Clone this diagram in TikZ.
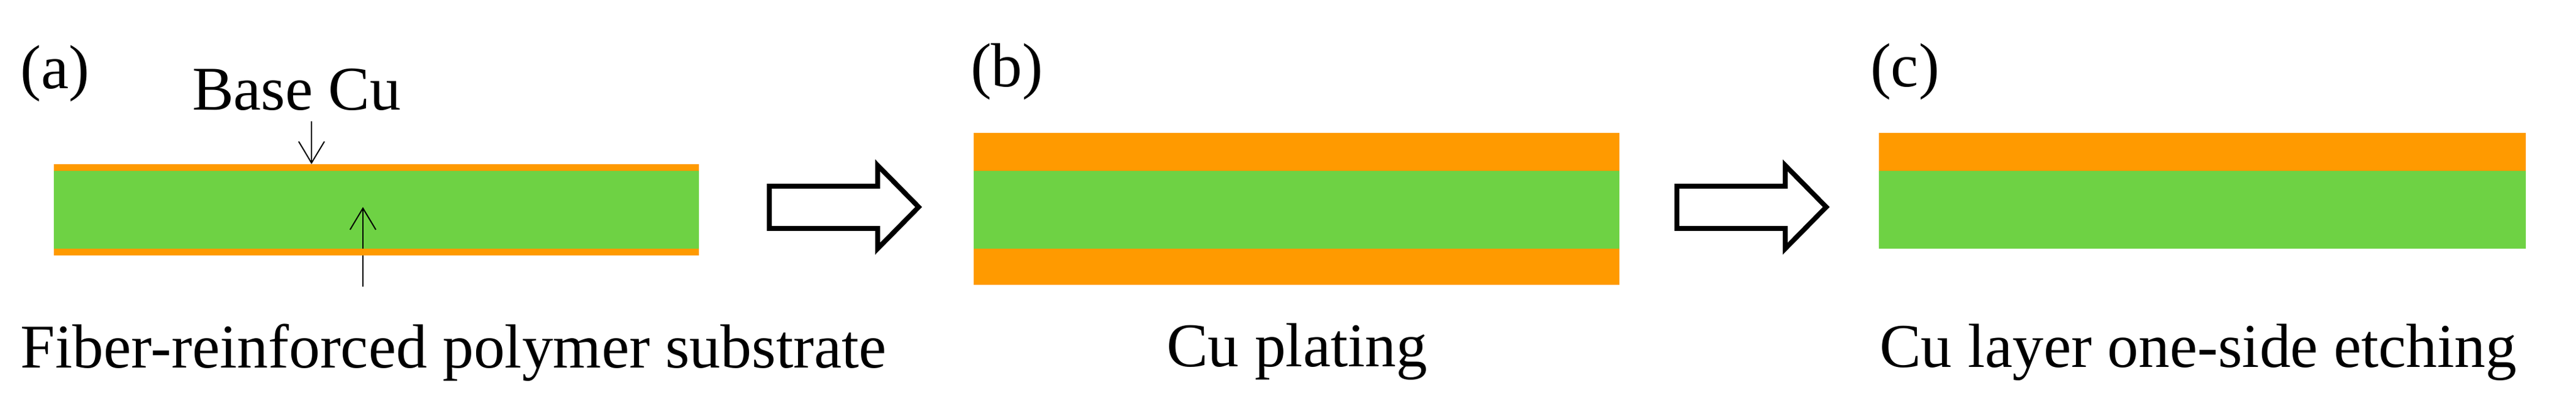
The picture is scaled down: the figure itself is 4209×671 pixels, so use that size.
\documentclass[tikz,border=0pt]{standalone}
\usepackage{fontspec}
\setmainfont{Liberation Serif}
\usetikzlibrary{arrows.meta}
\definecolor{cuorange}{RGB}{255,154,0}
\definecolor{polygreen}{RGB}{110,210,68}
\begin{document}
\begin{tikzpicture}[x=0.01cm,y=-0.01cm,
  lbl/.style={inner sep=0pt,outer sep=0pt,anchor=base west,font=\fontsize{28.9}{34}\selectfont},
  cu/.style={fill=cuorange,draw=none},
  poly/.style={fill=polygreen,draw=none},
  blockarrow/.style={draw=black,line width=0.08cm,fill=white,line join=miter},
  thinarrow/.style={draw=black,line width=0.02cm,-{Straight Barb[length=0.35cm,width=0.42cm,line width=0.02cm]}}]
\useasboundingbox (0,0) rectangle (4209,671);
% panel (a)
\fill[poly] (88,279) rectangle (1142,406);
\coordinate (downstart) at (509,198);
\coordinate (downend) at (509,268);
\coordinate (upstart) at (593,468);
\coordinate (upend) at (593,338);
\draw[thinarrow] (upstart) -- (upend);
\fill[cu] (88,268) rectangle (1142,279);
\fill[cu] (88,406) rectangle (1142,417);
\draw[thinarrow] (downstart) -- (downend);
\node[lbl] (la) at (34,145) {(a)};
\node[lbl] (base) at (314,180) {Base Cu};
\node[lbl] (ta) at (34,601) {Fiber-reinforced polymer substrate};
% arrow 1
\draw[blockarrow] (1257,304) -- (1434,304) -- (1434,270) -- (1501,338) -- (1434,406) -- (1434,373) -- (1257,373) -- cycle;
% panel (b)
\fill[cu] (1591,217) rectangle (2646,279);
\fill[poly] (1591,279) rectangle (2646,406);
\fill[cu] (1591,406) rectangle (2646,465);
\node[lbl] (lb) at (1586,142) {(b)};
\node[lbl] (tb) at (1906,599) {Cu plating};
% arrow 2
\begin{scope}[xshift=14.82cm]
\draw[blockarrow] (1257,304) -- (1434,304) -- (1434,270) -- (1501,338) -- (1434,406) -- (1434,373) -- (1257,373) -- cycle;
\end{scope}
% panel (c)
\fill[cu] (3070,217) rectangle (4127,279);
\fill[poly] (3070,279) rectangle (4127,406);
\node[lbl] (lc) at (3056,142) {(c)};
\node[lbl] (tc) at (3071,600) {Cu layer one-side etching};
\end{tikzpicture}
\end{document}
